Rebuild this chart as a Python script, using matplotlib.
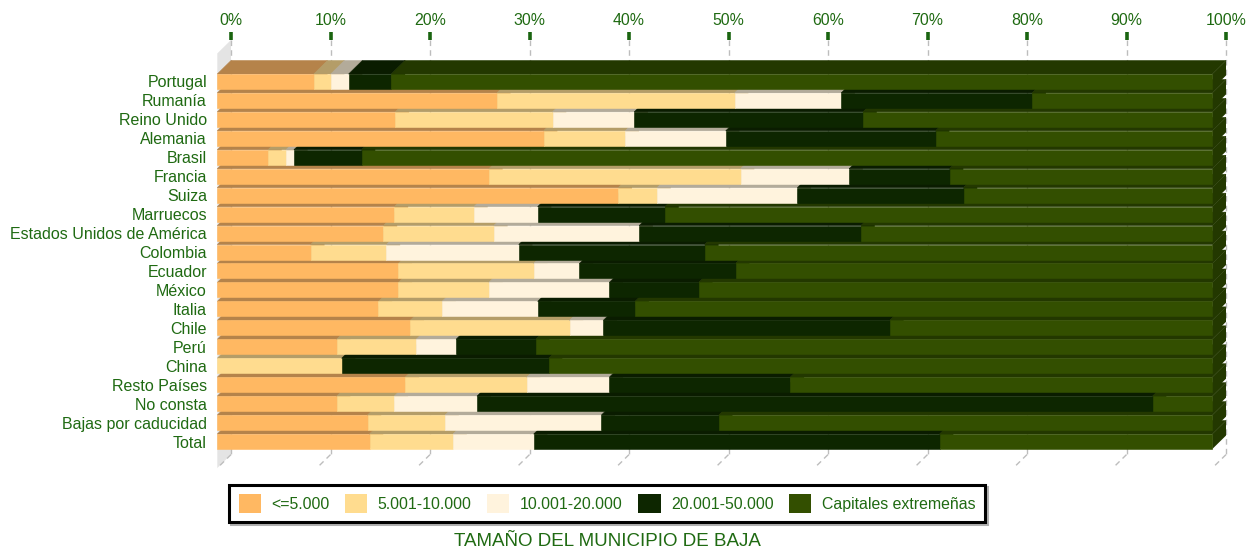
import matplotlib.pyplot as plt
from matplotlib.patches import Polygon, Patch

# categories (top to bottom)
paises = ['Portugal', 'Rumanía', 'Reino Unido', 'Alemania', 'Brasil', 'Francia',
          'Suiza', 'Marruecos', 'Estados Unidos de América', 'Colombia', 'Ecuador',
          'México', 'Italia', 'Chile', 'Perú', 'China', 'Resto Países', 'No consta',
          'Bajas por caducidad', 'Total']

# percent of bajas by size of municipio
hasta_5000 = [9.7, 28.1, 17.9, 32.8, 5.1, 27.3, 40.3, 17.8, 16.7, 9.4,
              18.2, 18.2, 16.2, 19.4, 12.0, 0.0, 18.9, 12.0, 15.1, 15.3]
de_5001_10000 = [1.7, 23.9, 15.8, 8.2, 1.8, 25.3, 3.9, 8.0, 11.1, 7.6,
                 13.6, 9.1, 6.4, 16.0, 8.0, 12.5, 12.2, 5.8, 7.8, 8.4]
de_10001_20000 = [1.8, 10.7, 8.2, 10.1, 0.8, 10.9, 14.1, 6.4, 14.6, 13.3,
                  4.6, 12.1, 9.6, 3.4, 4.0, 0.0, 8.3, 8.3, 15.7, 8.1]
de_20001_50000 = [4.3, 19.2, 23.0, 21.1, 6.8, 10.1, 16.7, 12.8, 22.3, 18.7,
                  15.7, 9.0, 9.8, 28.8, 8.0, 20.8, 18.2, 67.9, 11.8, 40.8]
capitales = [82.5, 18.1, 35.1, 27.8, 85.5, 26.4, 25.0, 55.0, 35.3, 51.0,
             47.9, 51.6, 58.0, 32.4, 68.0, 66.7, 42.4, 6.0, 49.6, 27.4]

series_names = ['<=5.000', '5.001-10.000', '10.001-20.000', '20.001-50.000',
                'Capitales extremeñas']
series = [hasta_5000, de_5001_10000, de_10001_20000, de_20001_50000, capitales]

front_col = ['#FFB862', '#FFDC8F', '#FFF3DD', '#0D2600', '#334F00']
top_col = ['#B5834A', '#B49D68', '#B3AB9A', '#0A1C00', '#233800']
txt_col = '#1F6A12'

plt.rcParams['font.family'] = ['Liberation Sans', 'DejaVu Sans']

fig = plt.figure(figsize=(12.47, 5.5), dpi=100)
ax = fig.add_axes([217.3 / 1247, (550 - 451) / 550, 995 / 1247, 379 / 550])
ax.set_xlim(0, 100)
ax.set_ylim(19.5, -0.5)

DX = 1.377   # depth in x (percent units)
DY = 0.71    # depth in y (row units)
H = 0.79     # bar thickness
TOP_BACK = -2.19
FLOOR_BACK = 19.69

# left wall
ax.add_patch(Polygon([(0, TOP_BACK + DY), (DX, TOP_BACK), (DX, FLOOR_BACK),
                      (0, FLOOR_BACK + DY)], closed=True, facecolor='#E4E4E4',
                     edgecolor='none', clip_on=False, zorder=0))

# grid on back wall and floor, ticks and tick labels on top
for v in range(0, 101, 10):
    ax.plot([v + DX, v + DX], [TOP_BACK, FLOOR_BACK], color='#BDBDBD', lw=1,
            dashes=(4, 3), clip_on=False, zorder=0.5)
    ax.plot([v + DX, v], [FLOOR_BACK, FLOOR_BACK + DY], color='#BDBDBD', lw=1,
            dashes=(4, 3), clip_on=False, zorder=0.5)
    ax.plot([v + DX, v + DX], [TOP_BACK - 0.42, TOP_BACK], color='#1A6410',
            lw=2.6, solid_capstyle='butt', clip_on=False, zorder=1)
    ax.text(v + DX, TOP_BACK - 1.05, f'{v}%', ha='center', va='center',
            fontsize=11.4, color=txt_col)

# 3d stacked bars, drawn from the bottom row up
for i in range(len(paises) - 1, -1, -1):
    yt = i - H / 2
    yb = i + H / 2
    left = 0.0
    for k, s in enumerate(series):
        w = s[i]
        if w <= 0:
            continue
        x0, x1 = left, left + w
        ax.add_patch(Polygon([(x0, yt), (x0 + DX, yt - DY), (x1 + DX, yt - DY), (x1, yt)],
                             closed=True, facecolor=top_col[k], edgecolor=top_col[k],
                             lw=0.4, clip_on=False, zorder=2))
        ax.add_patch(Polygon([(x1, yt), (x1 + DX, yt - DY), (x1 + DX, yb - DY), (x1, yb)],
                             closed=True, facecolor=top_col[k], edgecolor='none',
                             clip_on=False, zorder=2))
        ax.add_patch(Polygon([(x0, yt), (x1, yt), (x1, yb), (x0, yb)], closed=True,
                             facecolor=front_col[k], edgecolor=front_col[k], lw=0.4,
                             clip_on=False, zorder=2))
        left = x1

ax.set_yticks(range(len(paises)))
ax.set_yticklabels(paises, fontsize=11.5, color=txt_col)
ax.tick_params(axis='y', length=0, pad=7.5)
ax.set_xticks([])
for sp in ax.spines.values():
    sp.set_visible(False)
ax.patch.set_visible(False)

handles = [Patch(facecolor=c, edgecolor='none', label=n) for c, n in zip(front_col, series_names)]
leg = fig.legend(handles=handles, loc='center', bbox_to_anchor=(607 / 1247, (550 - 503.5) / 550),
                 ncol=5, fontsize=11.4, frameon=True, fancybox=False, edgecolor='black',
                 handlelength=1.4, handleheight=1.4, handletextpad=0.65, columnspacing=1.0,
                 borderpad=0.6, shadow={'ox': 1.2, 'oy': -1.2, 'color': '#B0B0B0', 'alpha': 1})
leg.get_frame().set_linewidth(2.2)
for t in leg.get_texts():
    t.set_color(txt_col)

fig.text(607.5 / 1247, (550 - 541) / 550, 'TAMAÑO DEL MUNICIPIO DE BAJA', ha='center',
         va='center', fontsize=13.5, color=txt_col)

fig.savefig('out.png', dpi=100)
